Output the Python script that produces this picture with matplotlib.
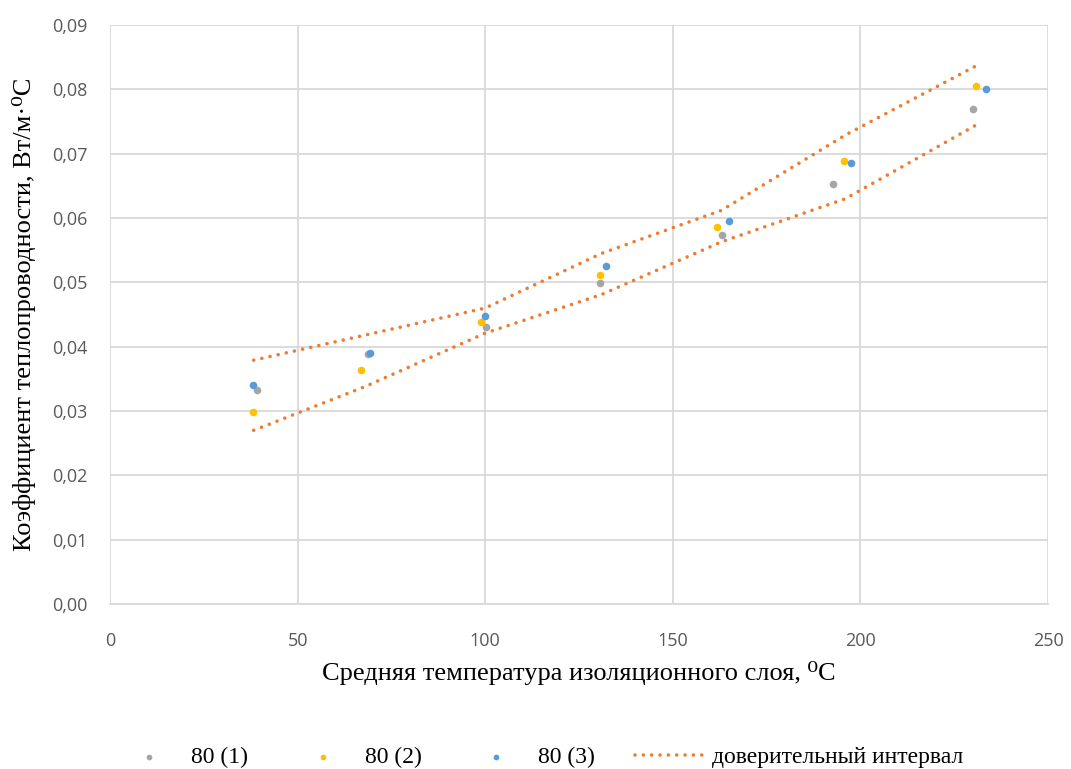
import numpy as np
import matplotlib.pyplot as plt
from matplotlib.ticker import FuncFormatter, MultipleLocator

# measured points
t1 = [39.3, 68.7, 100.2, 130.6, 163.0, 192.8, 230.1]
k1 = [0.0333, 0.0389, 0.0431, 0.0499, 0.0573, 0.0653, 0.0770]

t2 = [38.2, 66.9, 99.0, 130.6, 161.7, 195.7, 230.9]
k2 = [0.0299, 0.0363, 0.0439, 0.0512, 0.0586, 0.0689, 0.0805]

t3 = [38.2, 69.4, 100.0, 132.3, 164.9, 197.5, 233.5]
k3 = [0.0340, 0.0390, 0.0448, 0.0525, 0.0596, 0.0686, 0.0800]

# confidence interval bounds
t_ci = [38.3, 68.0, 100.0, 131.0, 163.0, 196.0, 231.0]
k_upper = [0.0379, 0.0418, 0.0460, 0.0545, 0.0612, 0.0729, 0.0837]
k_lower = [0.0270, 0.0338, 0.0421, 0.0481, 0.0563, 0.0630, 0.0745]

gray = '#a5a5a5'
yellow = '#ffc000'
blue = '#5b9bd5'
orange = '#ed7d31'
grid_c = '#d9d9d9'

fig = plt.figure(figsize=(10.71, 7.69), dpi=100)
ax = fig.add_axes([110 / 1071, 1 - 604 / 769, (1048 - 110) / 1071, (604 - 25) / 769])

dot_style = (0, (0.01, 2.3))
ax.plot(t_ci, k_upper, color=orange, lw=2.6, linestyle=dot_style,
        dash_capstyle='round', label='доверительный интервал', zorder=2)
ax.plot(t_ci, k_lower, color=orange, lw=2.6, linestyle=dot_style,
        dash_capstyle='round', zorder=2)

ax.scatter(t1, k1, s=30, color=gray, label='80 (1)', zorder=3, linewidths=0)
ax.scatter(t2, k2, s=30, color=yellow, label='80 (2)', zorder=3, linewidths=0)
ax.scatter(t3, k3, s=30, color=blue, label='80 (3)', zorder=3, linewidths=0)

ax.set_xlim(0, 250)
ax.set_ylim(0, 0.09)
ax.xaxis.set_major_locator(MultipleLocator(50))
ax.yaxis.set_major_locator(MultipleLocator(0.01))
ax.yaxis.set_major_formatter(FuncFormatter(lambda v, p: f'{v:.2f}'.replace('.', ',')))

ax.grid(True, color=grid_c, lw=1.3)
ax.set_axisbelow(True)
for s in ['top', 'right', 'left']:
    ax.spines[s].set_visible(False)
ax.spines['bottom'].set_color(grid_c)
ax.spines['bottom'].set_linewidth(1.3)
ax.tick_params(length=0, labelsize=13, labelcolor='#595959')
ax.tick_params(axis='x', pad=20)
ax.tick_params(axis='y', pad=16)
for lbl in ax.get_xticklabels() + ax.get_yticklabels():
    lbl.set_fontfamily(['Open Sans', 'DejaVu Sans'])

serif = ['Liberation Serif', 'DejaVu Serif']
ax.set_xlabel('Средняя температура изоляционного слоя, ⁰С', fontsize=19,
              family=serif, labelpad=8)
ax.set_ylabel('Коэффициент теплопроводности, Вт/м·⁰С', fontsize=19,
              family=serif, labelpad=12)

h, l = ax.get_legend_handles_labels()
order = [1, 2, 3, 0]
leg = fig.legend([h[i] for i in order], [l[i] for i in order], ncol=4,
                 loc='center', bbox_to_anchor=(539 / 1071, 1 - 757 / 769),
                 frameon=False, prop={'family': serif, 'size': 17},
                 handlelength=2.92, columnspacing=1.7, handletextpad=0.32,
                 markerscale=0.75, borderpad=0, borderaxespad=0)

fig.savefig('out.png', dpi=100)
